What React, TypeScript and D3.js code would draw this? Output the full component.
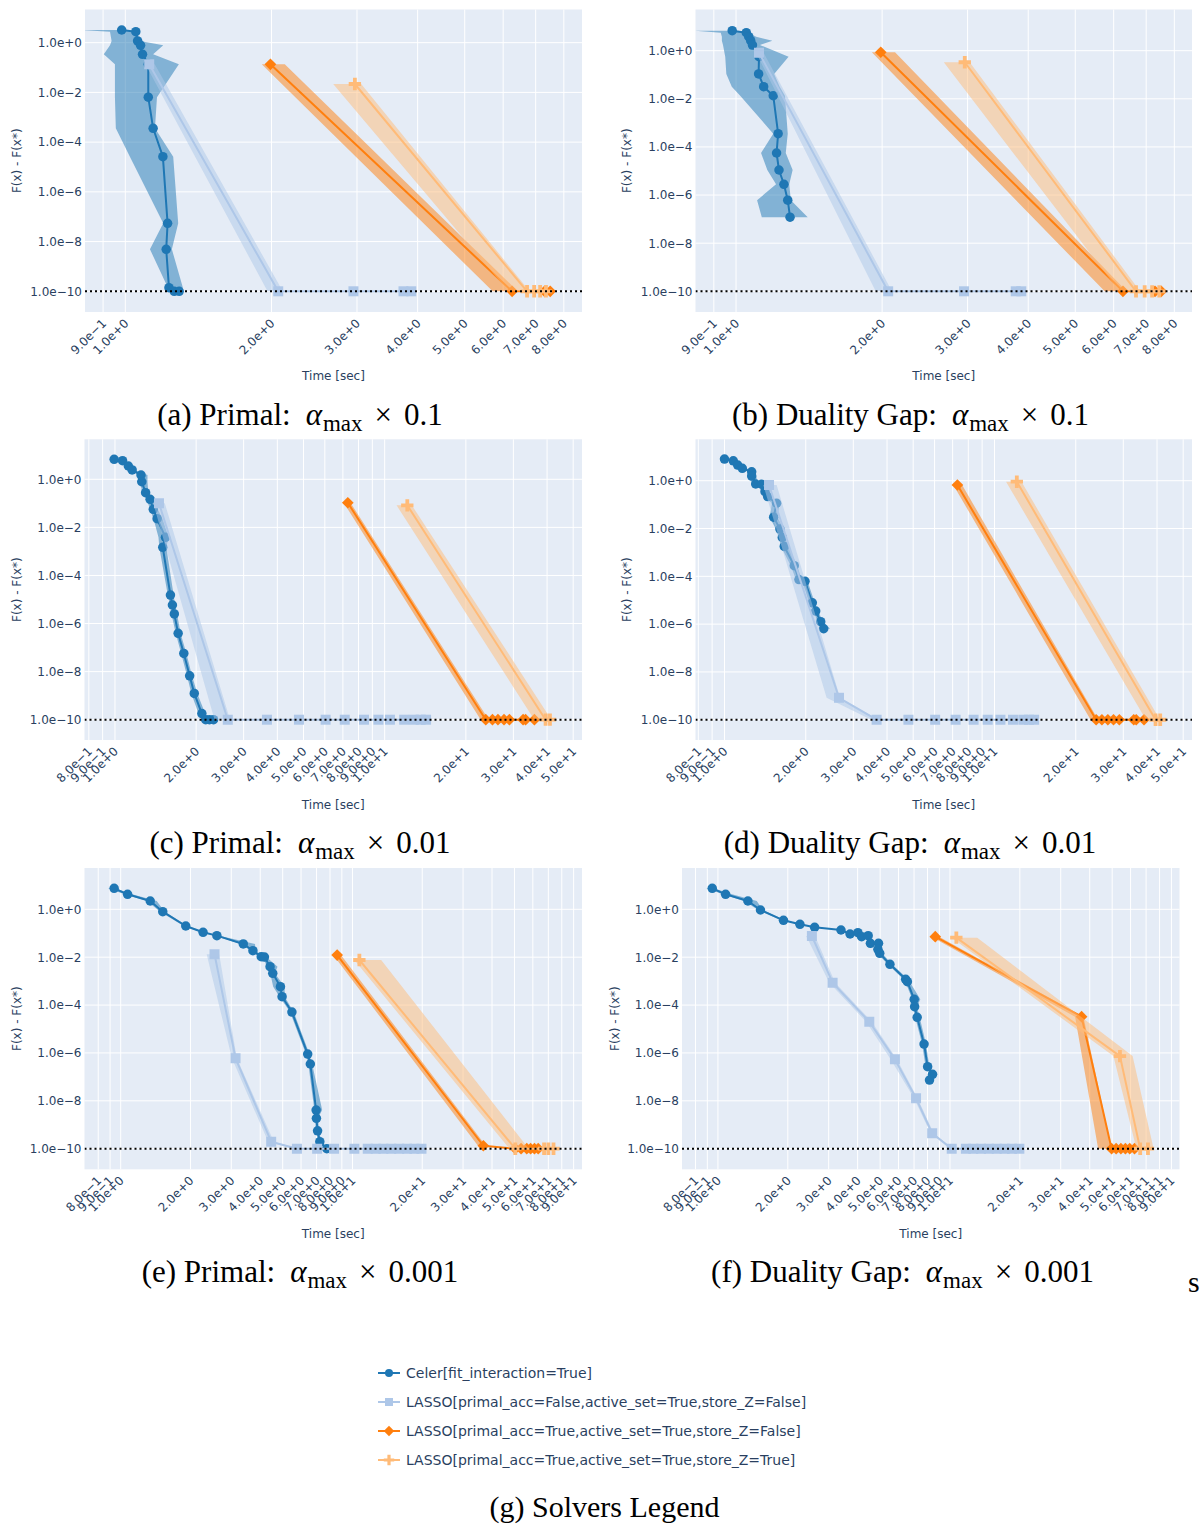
import React from 'react';
import * as d3 from 'd3';

type Row = [number, number, number, number]; // [time, F(x)-F(x*), timeLow, timeHigh]

// ---------- tick values ----------
const TICKS_AB = [0.9, 1, 2, 3, 4, 5, 6, 7, 8];
const TICKS_CD = [0.8, 0.9, 1, 2, 3, 4, 5, 6, 7, 8, 9, 10, 20, 30, 40, 50];
const TICKS_EF = [0.8, 0.9, 1, 2, 3, 4, 5, 6, 7, 8, 9, 10, 20, 30, 40, 50, 60, 70, 80, 90];
const Y_TICKS = [1, 1e-2, 1e-4, 1e-6, 1e-8, 1e-10];
const REF_LINE = 1e-10;

const SOLVERS = [
  'Celer[fit_interaction=True]',
  'LASSO[primal_acc=False,active_set=True,store_Z=False]',
  'LASSO[primal_acc=True,active_set=True,store_Z=False]',
  'LASSO[primal_acc=True,active_set=True,store_Z=True]',
];
const COLORS = ['#1f77b4', '#aec7e8', '#ff7f0e', '#ffbb78'];
const SYMBOLS = ['circle', 'square', 'diamond', 'cross'];

// ---------- (a) Primal, alpha_max x 0.1 ----------
const A_CELER: Row[] = [
  [0.983, 3.24, 0.80, 0.990], [1.051, 2.77, 0.930, 1.055], [1.060, 1.17, 0.937, 1.072],
  [1.075, 0.786, 0.930, 1.197], [1.085, 0.341, 0.903, 1.141], [1.115, 0.135, 0.952, 1.289],
  [1.115, 0.0064, 0.952, 1.162], [1.141, 3.6e-4, 0.956, 1.151], [1.195, 2.6e-5, 1.022, 1.255],
  [1.222, 5.4e-8, 1.197, 1.285], [1.214, 4.9e-9, 1.124, 1.247], [1.230, 1.4e-10, 1.224, 1.314],
  [1.261, 1e-10, 1.236, 1.296], [1.291, 1e-10, 1.265, 1.314],
];
const A_LASSO_F: Row[] = [
  [1.12, 0.135, 1.10, 1.15], [2.065, 1e-10, 1.963, 2.11], [2.95, 1e-10, 2.92, 2.98],
  [3.74, 1e-10, 3.70, 3.78], [3.88, 1e-10, 3.84, 3.92],
];
const A_LASSO_T: Row[] = [
  [1.99, 0.135, 1.91, 2.13], [6.26, 1e-10, 5.71, 6.43], [7.30, 1e-10, 7.2, 7.4], [7.50, 1e-10, 7.42, 7.58],
];
const A_LASSO_Z: Row[] = [
  [2.97, 0.0218, 2.68, 3.06], [6.72, 1e-10, 6.15, 6.80], [6.95, 1e-10, 6.85, 7.05],
  [7.15, 1e-10, 7.05, 7.25], [7.35, 1e-10, 7.25, 7.45],
];

// ---------- (b) Duality gap, alpha_max x 0.1 ----------
const B_CELER: Row[] = [
  [0.982, 6.78, 0.823, 0.99], [1.050, 5.6, 0.93, 1.06], [1.062, 3.82, 0.935, 1.10],
  [1.072, 2.6, 0.935, 1.188], [1.081, 1.72, 0.94, 1.12], [1.115, 0.563, 0.95, 1.283],
  [1.113, 0.108, 0.955, 1.198], [1.14, 0.0319, 0.98, 1.23], [1.193, 0.0135, 1.02, 1.261],
  [1.221, 3.56e-4, 1.193, 1.278], [1.212, 5.6e-5, 1.126, 1.266], [1.226, 1.1e-5, 1.16, 1.308],
  [1.255, 2.8e-6, 1.209, 1.287], [1.278, 6.1e-7, 1.105, 1.297], [1.292, 1.2e-7, 1.13, 1.405],
];
const B_LASSO_F: Row[] = [
  [1.115, 0.826, 1.10, 1.14], [2.058, 1e-10, 1.94, 2.095], [2.95, 1e-10, 2.92, 2.98],
  [3.77, 1e-10, 3.73, 3.81], [3.87, 1e-10, 3.83, 3.91],
];
const B_LASSO_T: Row[] = [
  [1.987, 0.86, 1.905, 2.126], [6.27, 1e-10, 5.75, 6.38], [7.30, 1e-10, 7.2, 7.4], [7.52, 1e-10, 7.45, 7.6],
];
const B_LASSO_Z: Row[] = [
  [2.96, 0.33, 2.68, 3.03], [6.67, 1e-10, 6.16, 6.80], [6.95, 1e-10, 6.85, 7.05],
  [7.20, 1e-10, 7.1, 7.3], [7.45, 1e-10, 7.35, 7.58],
];

// ---------- (c) Primal, alpha_max x 0.01 ----------
const C_CELER: Row[] = [
  [0.993, 6.8, 0.985, 1.00], [1.067, 5.94, 1.05, 1.08], [1.121, 3.57, 1.10, 1.14],
  [1.158, 2.44, 1.14, 1.18], [1.249, 1.51, 1.22, 1.32], [1.257, 0.79, 1.23, 1.32],
  [1.299, 0.277, 1.27, 1.33], [1.35, 0.147, 1.31, 1.40], [1.387, 0.0564, 1.35, 1.44],
  [1.433, 0.0229, 1.39, 1.50], [1.539, 0.00386, 1.45, 1.58], [1.504, 0.00148, 1.46, 1.55],
  [1.606, 1.53e-5, 1.57, 1.65], [1.633, 5.9e-6, 1.60, 1.67], [1.66, 2.5e-6, 1.62, 1.70],
  [1.715, 3.9e-7, 1.68, 1.75], [1.80, 5.7e-8, 1.76, 1.84], [1.892, 6.7e-9, 1.85, 1.93],
  [1.968, 1.24e-9, 1.92, 2.02], [2.10, 1.8e-10, 2.04, 2.16], [2.17, 1e-10, 2.12, 2.22],
  [2.24, 1e-10, 2.19, 2.29], [2.32, 1e-10, 2.27, 2.36],
];
const C_LASSO_F: Row[] = [
  [1.456, 0.1, 1.387, 1.53], [2.62, 1e-10, 2.34, 2.67], [3.66, 1e-10, 3.62, 3.70],
  [4.81, 1e-10, 4.77, 4.85], [6.04, 1e-10, 6.0, 6.08], [7.11, 1e-10, 7.07, 7.15],
  [8.38, 1e-10, 8.34, 8.42], [9.48, 1e-10, 9.44, 9.52], [10.46, 1e-10, 10.4, 10.5],
  [11.81, 1e-10, 11.75, 11.87], [12.82, 1e-10, 12.76, 12.88], [13.60, 1e-10, 13.54, 13.66],
  [14.24, 1e-10, 14.18, 14.3],
];
const C_LASSO_T: Row[] = [
  [7.30, 0.106, 7.05, 7.47], [23.7, 1e-10, 22.7, 24.3], [25.1, 1e-10, 24.8, 25.4],
  [26.3, 1e-10, 26.0, 26.6], [27.7, 1e-10, 27.4, 28.0], [29.0, 1e-10, 28.7, 29.3],
  [32.6, 1e-10, 32.3, 32.9], [33.3, 1e-10, 33.0, 33.6], [35.9, 1e-10, 35.6, 36.2],
];
const C_LASSO_Z: Row[] = [
  [12.13, 0.0828, 11.07, 12.61], [39.5, 1e-10, 35.9, 41.5], [41.0, 1e-10, 39.5, 42.3],
];

// ---------- (d) Duality gap, alpha_max x 0.01 ----------
const D_CELER: Row[] = [
  [1.0, 8.0, 0.99, 1.01], [1.078, 6.8, 1.06, 1.09], [1.119, 4.5, 1.10, 1.14],
  [1.164, 3.29, 1.14, 1.19], [1.261, 2.37, 1.22, 1.30], [1.261, 1.57, 1.22, 1.31],
  [1.305, 0.729, 1.27, 1.33], [1.373, 0.71, 1.33, 1.40], [1.413, 0.348, 1.37, 1.45],
  [1.445, 0.216, 1.40, 1.49], [1.56, 0.114, 1.50, 1.60], [1.521, 0.0299, 1.47, 1.57],
  [1.605, 0.00944, 1.55, 1.66], [1.637, 0.00422, 1.59, 1.68], [1.665, 0.00178, 1.62, 1.72],
  [1.813, 2.79e-4, 1.76, 1.86], [1.887, 7.3e-5, 1.84, 1.93], [1.987, 6.2e-5, 1.94, 2.03],
  [2.115, 7.8e-6, 2.06, 2.16], [2.177, 3.5e-6, 2.13, 2.22], [2.272, 1.26e-6, 2.22, 2.32],
  [2.33, 6.4e-7, 2.27, 2.46],
];
const D_LASSO_F: Row[] = [
  [1.462, 0.662, 1.392, 1.56], [2.655, 8.3e-10, 2.39, 2.68], [3.66, 1e-10, 3.5, 3.72],
  [4.80, 1e-10, 4.76, 4.84], [6.03, 1e-10, 5.99, 6.07], [7.18, 1e-10, 7.14, 7.22],
  [8.37, 1e-10, 8.33, 8.41], [9.44, 1e-10, 9.4, 9.48], [10.52, 1e-10, 10.46, 10.58],
  [11.71, 1e-10, 11.65, 11.77], [12.79, 1e-10, 12.73, 12.85], [13.43, 1e-10, 13.37, 13.49],
  [14.02, 1e-10, 13.96, 14.08],
];
const D_LASSO_T: Row[] = [
  [7.29, 0.66, 7.04, 7.59], [23.8, 1e-10, 22.7, 24.2], [25.0, 1e-10, 24.7, 25.3],
  [26.3, 1e-10, 26.0, 26.6], [27.6, 1e-10, 27.3, 27.9], [29.0, 1e-10, 28.7, 29.3],
  [32.8, 1e-10, 32.5, 33.1], [33.5, 1e-10, 33.2, 33.8], [35.8, 1e-10, 35.5, 36.1],
];
const D_LASSO_Z: Row[] = [
  [12.1, 0.908, 11.04, 12.59], [39.5, 1e-10, 36.4, 41.0], [41.1, 1e-10, 39.5, 42.8],
];

// ---------- (e) Primal, alpha_max x 0.001 ----------
const E_CELER: Row[] = [
  [0.937, 7.54, 0.88, 0.95], [1.071, 4.23, 1.04, 1.12], [1.341, 2.22, 1.30, 1.43],
  [1.519, 0.794, 1.48, 1.55], [1.909, 0.2006, 1.87, 1.94], [2.267, 0.1095, 2.22, 2.31],
  [2.60, 0.0794, 2.55, 2.66], [3.38, 0.0356, 3.30, 3.80], [3.72, 0.0187, 3.64, 3.80],
  [4.04, 0.0105, 3.95, 4.15], [4.17, 0.0101, 4.08, 4.25], [4.41, 0.004, 4.30, 4.75],
  [4.53, 0.00212, 4.42, 4.62], [4.89, 5.85e-4, 4.55, 5.10], [4.97, 2.24e-4, 4.85, 5.10],
  [5.48, 5.1e-5, 5.38, 5.58], [6.41, 9.0e-7, 6.30, 6.52], [6.58, 3.45e-7, 6.45, 6.70],
  [6.97, 4.1e-9, 6.85, 7.40], [6.99, 1.86e-9, 6.88, 7.10], [7.07, 5.6e-10, 6.96, 7.18],
  [7.23, 1.96e-10, 7.12, 7.35], [7.75, 1e-10, 7.60, 7.85],
];
const E_LASSO_F: Row[] = [
  [2.54, 0.0132, 2.35, 2.66], [3.13, 5.97e-7, 3.02, 3.17], [4.46, 1.96e-10, 4.33, 4.58],
  [5.76, 1e-10, 5.6, 5.9], [7.04, 1e-10, 6.95, 7.12], [8.33, 1e-10, 8.25, 8.41],
  [10.19, 1e-10, 10.1, 10.3], [11.64, 1e-10, 11.5, 11.8], [12.6, 1e-10, 12.5, 12.7],
  [13.6, 1e-10, 13.5, 13.7], [14.7, 1e-10, 14.6, 14.8], [15.9, 1e-10, 15.8, 16.0],
  [17.2, 1e-10, 17.1, 17.3], [18.5, 1e-10, 18.4, 18.6], [19.85, 1e-10, 19.7, 20.0],
];
const E_LASSO_T: Row[] = [
  [8.59, 0.0123, 8.26, 8.92], [36.7, 1.33e-10, 34.8, 37.6], [50.4, 1e-10, 48.5, 51.5],
  [53.4, 1e-10, 52.8, 54.0], [56.5, 1e-10, 55.9, 57.1], [58.7, 1e-10, 58.1, 59.3],
  [61.0, 1e-10, 60.4, 61.6], [63.3, 1e-10, 62.7, 63.9],
];
const E_LASSO_Z: Row[] = [
  [10.71, 0.00762, 10.19, 13.3], [50.4, 1e-10, 47.6, 57.6], [67.1, 1e-10, 64.0, 69.0],
  [70.0, 1e-10, 68.5, 71.5], [73.7, 1e-10, 72.0, 75.0],
];

// ---------- (f) Duality gap, alpha_max x 0.001 ----------
const F_CELER: Row[] = [
  [0.945, 7.54, 0.89, 0.96], [1.079, 4.23, 1.05, 1.15], [1.346, 2.22, 1.30, 1.47],
  [1.525, 0.935, 1.49, 1.56], [1.916, 0.347, 1.88, 1.95], [2.256, 0.236, 2.21, 2.30],
  [2.61, 0.177, 2.56, 2.66], [3.39, 0.1366, 3.32, 3.46], [3.71, 0.0929, 3.63, 3.79],
  [4.01, 0.1054, 3.92, 4.10], [4.16, 0.0717, 4.07, 4.25], [4.44, 0.0794, 4.35, 4.54],
  [4.54, 0.038, 4.40, 4.65], [4.92, 0.038, 4.80, 5.02], [4.89, 0.0213, 4.75, 5.0],
  [4.98, 0.0145, 4.85, 5.10], [5.51, 0.00504, 5.40, 5.62], [6.44, 0.00119, 6.30, 6.60],
  [6.55, 9.5e-4, 6.42, 6.70], [7.01, 1.74e-4, 6.88, 7.45], [7.04, 8.6e-5, 6.90, 7.20],
  [7.22, 3.08e-5, 7.08, 7.40], [7.73, 2.36e-6, 7.58, 7.88], [8.01, 2.66e-7, 7.85, 8.15],
  [8.41, 1.28e-7, 8.25, 8.55], [8.16, 7.4e-8, 8.00, 8.30],
];
const F_LASSO_F: Row[] = [
  [2.54, 0.0767, 2.40, 2.62], [3.12, 8.6e-4, 3.02, 3.20], [4.49, 2.02e-5, 4.35, 4.60],
  [5.79, 5.4e-7, 5.55, 5.90], [7.14, 1.27e-8, 7.00, 7.25], [8.38, 4.4e-10, 8.25, 8.50],
  [10.17, 1e-10, 10.0, 10.3], [11.71, 1e-10, 11.6, 11.8], [12.6, 1e-10, 12.5, 12.7],
  [13.6, 1e-10, 13.5, 13.7], [14.7, 1e-10, 14.6, 14.8], [15.9, 1e-10, 15.8, 16.0],
  [17.2, 1e-10, 17.1, 17.3], [18.5, 1e-10, 18.4, 18.6], [19.9, 1e-10, 19.75, 20.0],
];
const F_LASSO_T: Row[] = [
  [8.64, 0.0717, 8.32, 8.97], [36.9, 3.27e-5, 34.6, 37.6], [49.7, 1e-10, 43.5, 49.7],
  [52.0, 1e-10, 51.4, 52.6], [54.5, 1e-10, 53.9, 55.1], [57.0, 1e-10, 56.4, 57.6],
  [59.5, 1e-10, 58.9, 60.1], [62.4, 1e-10, 61.8, 63.0],
];
const F_LASSO_Z: Row[] = [
  [10.65, 0.0653, 10.17, 13.1], [54.0, 7.4e-7, 50.6, 61.2], [66.0, 1e-10, 63.6, 75.4],
  [71.3, 1e-10, 69.0, 75.4],
];

// ---------- layout ----------
const FONT = '"DejaVu Sans", Verdana, sans-serif';
const SERIF = '"Liberation Serif", "DejaVu Serif", serif';
const TXT = '#2a3f5f';

interface Panel {
  left: number; top: number; right: number; bottom: number;
  xDom: [number, number]; yDom: [number, number];
  ticks: number[]; series: Row[][];
  yTitleX: number; xTitleY: number;
  capPrefix: string; capSuffix: string; capX: number; capY: number;
}

const PANELS: Panel[] = [
  { left: 85, top: 9.5, right: 582, bottom: 312, xDom: [0.826, 8.72], yDom: [1.47e-11, 21.6], ticks: TICKS_AB,
    series: [A_CELER, A_LASSO_F, A_LASSO_T, A_LASSO_Z], yTitleX: 17, xTitleY: 376,
    capPrefix: '(a) Primal:', capSuffix: '0.1', capX: 300, capY: 425 },
  { left: 695.5, top: 9.5, right: 1192, bottom: 312, xDom: [0.825, 8.70], yDom: [1.38e-11, 51.5], ticks: TICKS_AB,
    series: [B_CELER, B_LASSO_F, B_LASSO_T, B_LASSO_Z], yTitleX: 627, xTitleY: 376,
    capPrefix: '(b) Duality Gap:', capSuffix: '0.1', capX: 910.5, capY: 425 },
  { left: 84.5, top: 439.3, right: 582, bottom: 740, xDom: [0.771, 53.9], yDom: [1.43e-11, 46.1], ticks: TICKS_CD,
    series: [C_CELER, C_LASSO_F, C_LASSO_T, C_LASSO_Z], yTitleX: 17, xTitleY: 805,
    capPrefix: '(c) Primal:', capSuffix: '0.01', capX: 300, capY: 853 },
  { left: 695.5, top: 439.3, right: 1192, bottom: 740, xDom: [0.781, 53.9], yDom: [1.42e-11, 54.0], ticks: TICKS_CD,
    series: [D_CELER, D_LASSO_F, D_LASSO_T, D_LASSO_Z], yTitleX: 627, xTitleY: 805,
    capPrefix: '(d) Duality Gap:', capSuffix: '0.01', capX: 910, capY: 853 },
  { left: 84.5, top: 868, right: 582, bottom: 1169.3, xDom: [0.698, 97.8], yDom: [1.38e-11, 53.1], ticks: TICKS_EF,
    series: [E_CELER, E_LASSO_F, E_LASSO_T, E_LASSO_Z], yTitleX: 17, xTitleY: 1234,
    capPrefix: '(e) Primal:', capSuffix: '0.001', capX: 300, capY: 1282 },
  { left: 682, top: 868, right: 1179.5, bottom: 1169.3, xDom: [0.70, 97.5], yDom: [1.38e-11, 53.1], ticks: TICKS_EF,
    series: [F_CELER, F_LASSO_F, F_LASSO_T, F_LASSO_Z], yTitleX: 615, xTitleY: 1234,
    capPrefix: '(f) Duality Gap:', capSuffix: '0.001', capX: 902.5, capY: 1282 },
];

function fmtExp(v: number): string {
  const e = Math.floor(Math.log10(v) + 1e-9);
  const m = v / Math.pow(10, e);
  return `${m.toFixed(1)}e${e < 0 ? '\u2212' : '+'}${Math.abs(e)}`;
}

function markerPath(sym: string, s: number): string {
  if (sym === 'circle') {
    const r = s / 2;
    return `M${r},0A${r},${r} 0 1,1 ${-r},0A${r},${r} 0 1,1 ${r},0Z`;
  }
  if (sym === 'square') {
    const h = s / 2;
    return `M${h},${h}H${-h}V${-h}H${h}Z`;
  }
  if (sym === 'diamond') {
    const h = s * 0.65;
    return `M${h},0L0,${h}L${-h},0L0,${-h}Z`;
  }
  const a = s * 0.65, t = s * 0.2;
  return `M${t},${t}H${a}V${-t}H${t}V${-a}H${-t}V${-t}H${-a}V${t}H${-t}V${a}H${t}Z`;
}

const MSIZE = [9.5, 10, 9, 9.5];

function Caption({ p }: { p: Panel }) {
  return (
    <text x={p.capX} y={p.capY} textAnchor="middle" fontSize={31} fontFamily={SERIF} fill="#000">
      <tspan>{p.capPrefix}</tspan>
      <tspan dx={15} fontStyle="italic">α</tspan>
      <tspan dx={1} fontSize={23} dy={6}>max</tspan>
      <tspan dx={12} dy={-6}>×</tspan>
      <tspan dx={12}>{p.capSuffix}</tspan>
    </text>
  );
}

function PanelView({ p, idx }: { p: Panel; idx: number }) {
  const x = d3.scaleLog().domain(p.xDom).range([p.left, p.right]);
  const y = d3.scaleLog().domain(p.yDom).range([p.bottom, p.top]);
  const clipId = `clip-${idx}`;
  const line = d3.line<[number, number]>().x((d) => x(d[0])).y((d) => y(d[1]));
  const cx = (p.left + p.right) / 2;
  const cy = (p.top + p.bottom) / 2;
  return (
    <g>
      <defs>
        <clipPath id={clipId}>
          <rect x={p.left} y={p.top} width={p.right - p.left} height={p.bottom - p.top} />
        </clipPath>
      </defs>
      <rect x={p.left} y={p.top} width={p.right - p.left} height={p.bottom - p.top} fill="#E5ECF6" />
      {p.ticks.map((t) => (
        <line key={'gx' + t} x1={x(t)} x2={x(t)} y1={p.top} y2={p.bottom} stroke="#fff" strokeWidth={1} />
      ))}
      {Y_TICKS.map((t) => (
        <line key={'gy' + t} x1={p.left} x2={p.right} y1={y(t)} y2={y(t)} stroke="#fff" strokeWidth={1} />
      ))}
      <g clipPath={`url(#${clipId})`}>
        {p.series.map((rows, si) => {
          const band: [number, number][] = [
            ...rows.map((r) => [r[2], r[1]] as [number, number]),
            ...rows.slice().reverse().map((r) => [r[3], r[1]] as [number, number]),
          ];
          const pts = rows.map((r) => [r[0], r[1]] as [number, number]);
          return (
            <g key={si}>
              <path d={(line(band) || '') + 'Z'} fill={COLORS[si]} fillOpacity={0.5} stroke="none" />
              <path d={line(pts) || ''} fill="none" stroke={COLORS[si]} strokeWidth={2} strokeLinejoin="round" />
              {rows.map((r, k) => (
                <path key={k} d={markerPath(SYMBOLS[si], MSIZE[si])}
                  transform={`translate(${x(r[0])},${y(r[1])})`} fill={COLORS[si]} />
              ))}
            </g>
          );
        })}
        <line x1={p.left} x2={p.right} y1={y(REF_LINE)} y2={y(REF_LINE)} stroke="#000" strokeWidth={2}
          strokeDasharray="2,3" />
      </g>
      {Y_TICKS.map((t) => (
        <text key={'ly' + t} x={p.left - 3} y={y(t)} dy="0.36em" textAnchor="end" fontSize={12}
          fontFamily={FONT} fill={TXT}>{fmtExp(t)}</text>
      ))}
      {p.ticks.map((t) => (
        <text key={'lx' + t} transform={`translate(${x(t) + 4},${p.bottom + 12}) rotate(-45)`}
          textAnchor="end" fontSize={12} fontFamily={FONT} fill={TXT}>{fmtExp(t)}</text>
      ))}
      <text x={cx} y={p.xTitleY} dy="0.36em" textAnchor="middle" fontSize={12} fontFamily={FONT} fill={TXT}>
        Time [sec]
      </text>
      <text transform={`translate(${p.yTitleX},${cy}) rotate(-90)`} dy="0.36em" textAnchor="middle"
        fontSize={12} fontFamily={FONT} fill={TXT}>F(x) - F(x*)</text>
      <Caption p={p} />
    </g>
  );
}

function Legend() {
  const x0 = 378, y0 = 1373, dyRow = 29;
  return (
    <g>
      {SOLVERS.map((name, i) => {
        const yy = y0 + i * dyRow;
        return (
          <g key={name}>
            <line x1={x0} x2={x0 + 22} y1={yy} y2={yy} stroke={COLORS[i]} strokeWidth={2} />
            <path d={markerPath(SYMBOLS[i], 8)} transform={`translate(${x0 + 11},${yy})`} fill={COLORS[i]} />
            <text x={x0 + 28} y={yy} dy="0.36em" fontSize={14} fontFamily={FONT} fill={TXT}>{name}</text>
          </g>
        );
      })}
      <text x={604.5} y={1517} textAnchor="middle" fontSize={30} fontFamily={SERIF} fill="#000">
        (g) Solvers Legend
      </text>
    </g>
  );
}

export default function App() {
  return (
    <svg width={1201} height={1524} style={{ position: 'absolute', left: 0, top: 0, background: '#fff' }}>
      <rect x={0} y={0} width={1201} height={1524} fill="#fff" />
      {PANELS.map((p, i) => <PanelView key={i} p={p} idx={i} />)}
      <Legend />
      <text x={1188} y={1292} fontSize={30} fontFamily={SERIF} fill="#000">s</text>
    </svg>
  );
}
